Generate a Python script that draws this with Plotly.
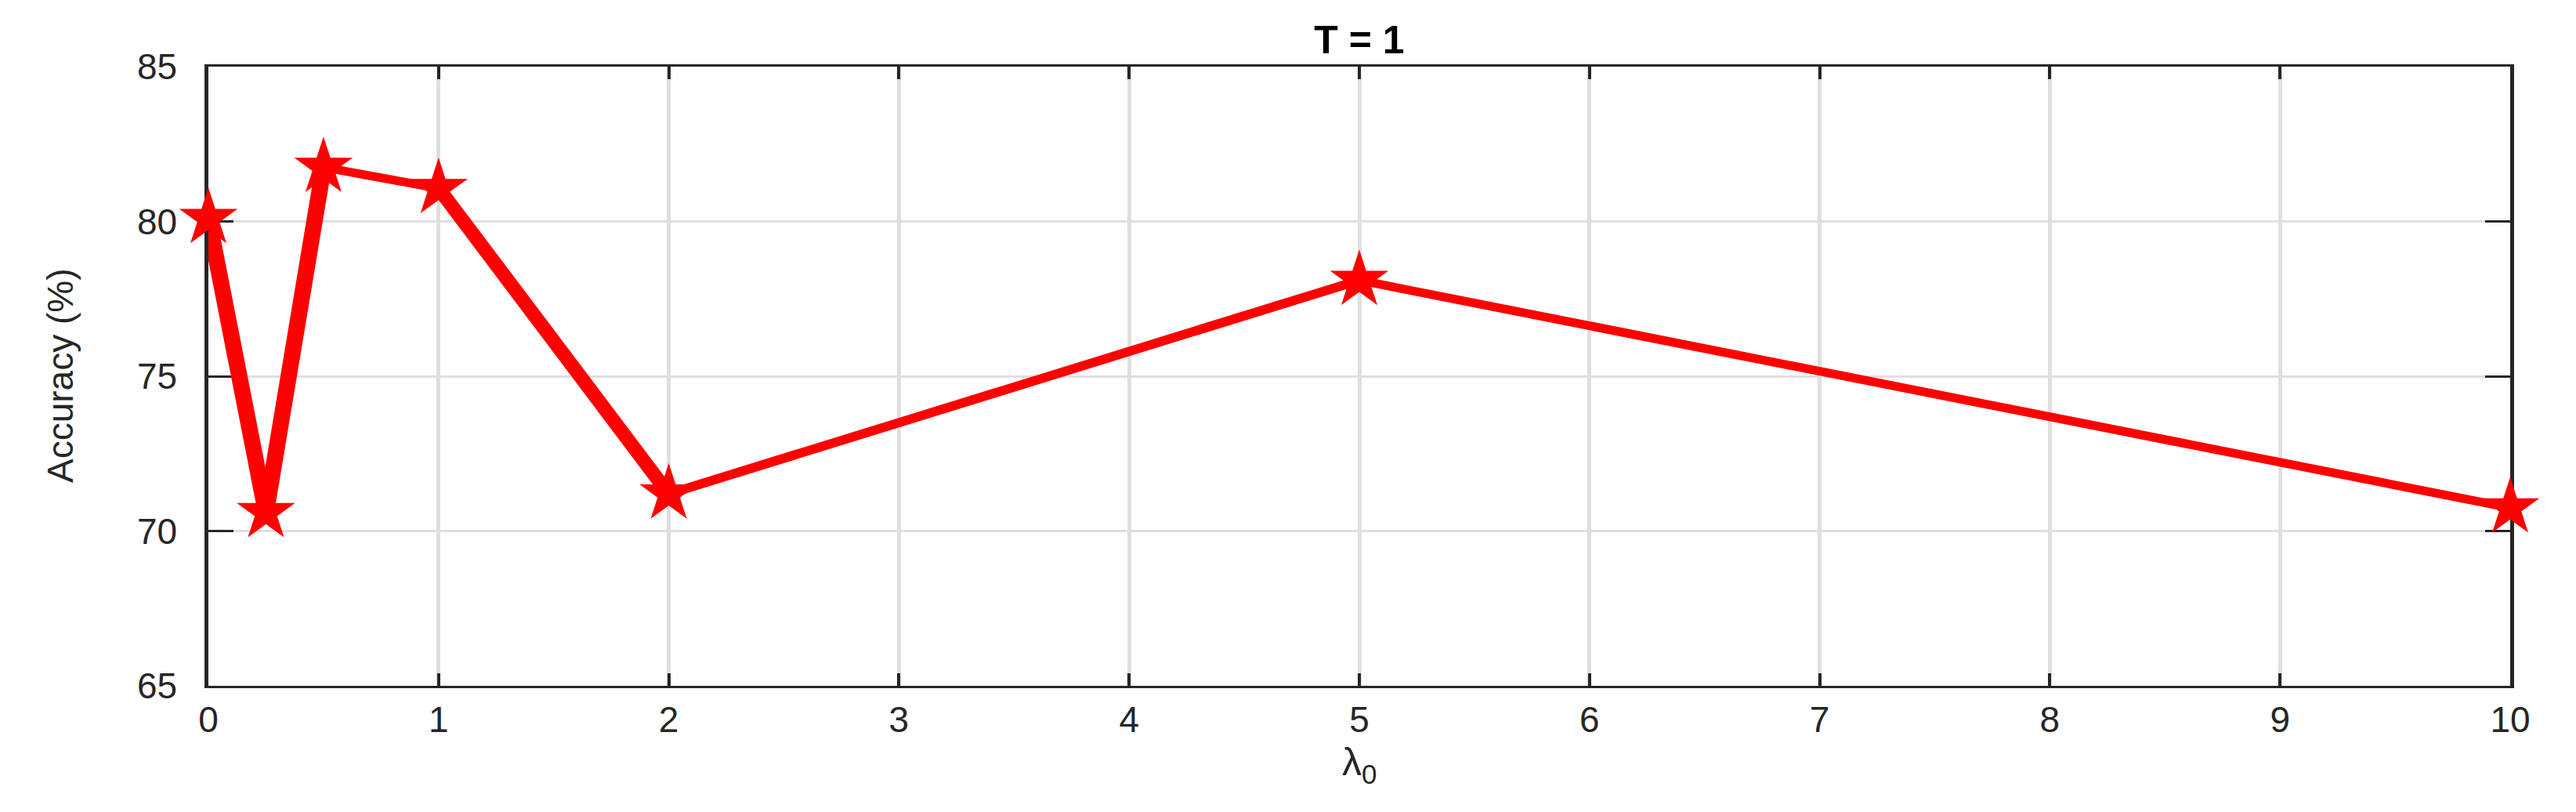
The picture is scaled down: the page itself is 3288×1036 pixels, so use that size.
import math
import plotly.graph_objects as go

# ---- data ----
lam = [0, 0.25, 0.5, 1, 2, 5, 10]
acc = [80.1, 70.6, 81.75, 81.07, 71.2, 78.1, 70.75]
x_ticks = [0, 1, 2, 3, 4, 5, 6, 7, 8, 9, 10]
y_ticks = [65, 70, 75, 80, 85]
title_text = "T = 1"
x_label = "λ<sub>0</sub>"
y_label = "Accuracy (%)"

# ---- layout constants ----
W, H = 3288, 1036
ML, MR, MT, MB = 266, 84, 85, 161
PW = W - ML - MR
PH = H - MT - MB
X_RANGE = [0, 10]
Y_RANGE = [65, 85]
px_x = PW / (X_RANGE[1] - X_RANGE[0])
px_y = PH / (Y_RANGE[1] - Y_RANGE[0])
STRETCH = 2.0     # the reference is horizontally stretched
BASE_W = 10.5     # line width before stretch
RED = "#ff0000"
AX = "#262626"
GRID = "#dfdfdf"
FONT = "Liberation Sans"

fig = go.Figure()

# line segments, width emulating the horizontal stretch of the original
for i in range(len(lam) - 1):
    dx = (lam[i + 1] - lam[i]) * px_x
    dy = (acc[i + 1] - acc[i]) * px_y
    L = math.hypot(dx, dy)
    L0 = math.hypot(dx / STRETCH, dy)
    width = BASE_W * STRETCH * L0 / L
    fig.add_trace(go.Scatter(
        x=lam[i:i + 2], y=acc[i:i + 2], mode="lines",
        line=dict(color=RED, width=width),
        showlegend=False, hoverinfo="skip", cliponaxis=False))

fig.add_trace(go.Scatter(
    x=lam, y=acc, mode="markers",
    marker=dict(symbol="star", size=56, color=RED, line=dict(width=0)),
    showlegend=False, cliponaxis=False))

fig.update_layout(
    width=W, height=H,
    margin=dict(l=ML, r=MR, t=MT, b=MB, pad=0),
    paper_bgcolor="white", plot_bgcolor="white",
    font=dict(family=FONT, color=AX, size=46),
    title=dict(text="<b>" + title_text + "</b>", x=0.5, xref="paper",
               y=1 - 50 / H, yref="container", xanchor="center", yanchor="middle",
               font=dict(family=FONT, size=50, color="#000000")),
    xaxis=dict(range=X_RANGE, tickvals=x_ticks, ticktext=[str(t) for t in x_ticks],
               showgrid=True, gridcolor=GRID, gridwidth=4.5,
               showline=True, linecolor=AX, linewidth=3, mirror="ticks",
               ticks="inside", ticklen=16, tickwidth=4, tickcolor=AX,
               zeroline=False, ticklabelstandoff=1,
               tickfont=dict(family=FONT, size=46, color=AX), layer="below traces"),
    yaxis=dict(range=Y_RANGE, tickvals=y_ticks, ticktext=[str(t) for t in y_ticks],
               showgrid=True, gridcolor=GRID, gridwidth=2.5,
               showline=True, linecolor=AX, linewidth=4.5, mirror="ticks",
               ticks="inside", ticklen=32, tickwidth=3, tickcolor=AX,
               zeroline=False, ticklabelstandoff=26,
               tickfont=dict(family=FONT, size=46, color=AX), layer="below traces"),
    annotations=[
        dict(text=x_label, xref="paper", yref="paper", x=0.5,
             y=-(975 - (H - MB)) / PH, xanchor="center", yanchor="middle",
             showarrow=False, font=dict(family=FONT, size=50, color=AX)),
        dict(text=y_label, xref="paper", yref="paper", x=-(ML - 77) / PW,
             y=0.5, xanchor="center", yanchor="middle", textangle=-90,
             showarrow=False, font=dict(family=FONT, size=46, color=AX)),
    ],
)

fig.write_html("out.html", config={"displayModeBar": False},
               post_script="document.body.style.margin='0';document.body.style.overflow='hidden';")
